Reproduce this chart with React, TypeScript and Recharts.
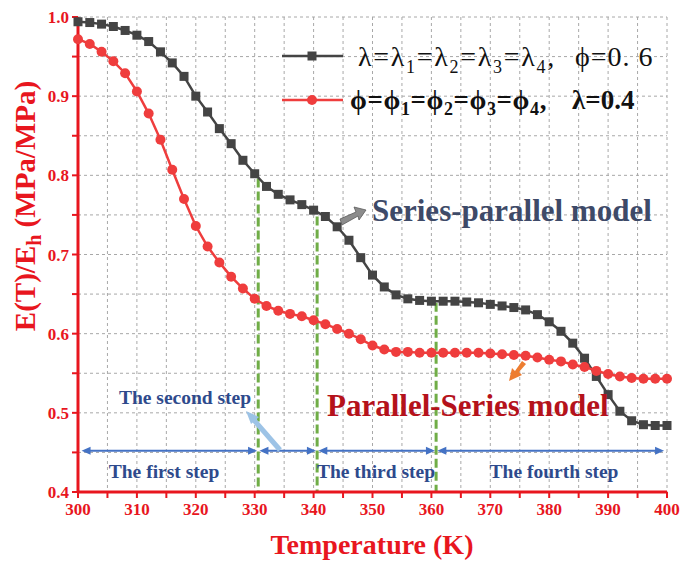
import React from "react";
import {
  LineChart,
  Line,
  XAxis,
  YAxis,
  CartesianGrid,
  ReferenceLine,
} from "recharts";

const temperature = [
  300, 302, 304, 306, 308, 310, 312, 314, 316, 318, 320, 322, 324, 326, 328, 330, 332, 334,
  336, 338, 340, 342, 344, 346, 348, 350, 352, 354, 356, 358, 360, 362, 364, 366, 368, 370,
  372, 374, 376, 378, 380, 382, 384, 386, 388, 390, 392, 394, 396, 398, 400,
];

// λ=λ1=λ2=λ3=λ4, ϕ=0.6 (series-parallel)
const seriesParallel = [
  0.994, 0.993, 0.991, 0.988, 0.983, 0.977, 0.969, 0.956, 0.942, 0.925, 0.9, 0.88, 0.859,
  0.84, 0.819, 0.802, 0.786, 0.776, 0.769, 0.763, 0.756, 0.748, 0.735, 0.718, 0.696, 0.674,
  0.659, 0.649, 0.644, 0.642, 0.641, 0.641, 0.641, 0.64, 0.639, 0.637, 0.635, 0.633, 0.63,
  0.624, 0.615, 0.603, 0.588, 0.569, 0.546, 0.523, 0.502, 0.49, 0.485, 0.484, 0.484,
];

// ϕ=ϕ1=ϕ2=ϕ3=ϕ4, λ=0.4 (parallel-series)
const parallelSeries = [
  0.972, 0.966, 0.956, 0.944, 0.929, 0.906, 0.878, 0.845, 0.807, 0.77, 0.736, 0.71, 0.69,
  0.672, 0.657, 0.644, 0.635, 0.629, 0.625, 0.622, 0.617, 0.612, 0.606, 0.6, 0.593, 0.585,
  0.58, 0.577, 0.577, 0.576, 0.576, 0.576, 0.576, 0.576, 0.576, 0.575, 0.574, 0.573, 0.572,
  0.57, 0.567, 0.565, 0.561, 0.558, 0.553, 0.549, 0.546, 0.544, 0.543, 0.543, 0.543,
];

const xTicks = [300, 305, 310, 315, 320, 325, 330, 335, 340, 345, 350, 355, 360, 365, 370, 375, 380, 385, 390, 395, 400];
const yTicks = [0.4, 0.45, 0.5, 0.55, 0.6, 0.65, 0.7, 0.75, 0.8, 0.85, 0.9, 0.95, 1.0];

// step boundaries (K) and where the green guides start (curve value)
const stepBounds = [300.6, 330.6, 340.6, 360.8, 399.7];
const guideTops = [0.796, 0.748, 0.639];
const stepArrowY = 0.452;

const data = temperature.map((t, i) => ({
  t,
  sp: seriesParallel[i],
  ps: parallelSeries[i],
}));

const RED = "#e8161e";
const BLUE = "#1414e6";
const BLACK = "#444444";
const PINK = "#ef3d3d";
const STEP = "#4472c4";
const STEP_TEXT = "#2e4a8c";
const SERIF = '"Liberation Serif", serif';

const SquareDot = (props: any) => {
  const { cx, cy, index } = props;
  return <rect key={`sq-${index}`} x={cx - 4.5} y={cy - 4.5} width={9} height={9} fill={BLACK} />;
};

const RoundDot = (props: any) => {
  const { cx, cy, index } = props;
  return <circle key={`ci-${index}`} cx={cx} cy={cy} r={5} fill={PINK} />;
};

const head = (x: number, y: number, dir: number) => {
  // dir: -1 = pointing left, 1 = pointing right
  const l = 9;
  const w = 4;
  return `${x},${y} ${x - dir * l},${y - w} ${x - dir * l},${y + w}`;
};

const StepArrow = (p: any) => {
  const { x1, y1, x2, y2 } = p;
  return (
    <g>
      <line x1={x1 + 4} y1={y1} x2={x2 - 4} y2={y2} stroke={STEP} strokeWidth={2} />
      <polygon points={head(x1, y1, -1)} fill={STEP} />
      <polygon points={head(x2, y2, 1)} fill={STEP} />
    </g>
  );
};

const subStyle: React.CSSProperties = { fontSize: 18, lineHeight: 0 };

const abs = (left: number, top: number, extra: React.CSSProperties): React.CSSProperties => ({
  position: "absolute",
  left,
  top,
  transform: "translateY(-50%)",
  fontFamily: SERIF,
  whiteSpace: "nowrap",
  lineHeight: 1,
  ...extra,
});

const LegendBox = () => (
  <>
    <svg width={686} height={563} style={{ position: "absolute", top: 0, left: 0 }}>
      <line x1={282} y1={56} x2={343} y2={56} stroke={BLACK} strokeWidth={2.5} />
      <rect x={307.5} y={51.5} width={9} height={9} fill={BLACK} />
      <line x1={282} y1={100} x2={343} y2={100} stroke={PINK} strokeWidth={2.5} />
      <circle cx={312} cy={100} r={5} fill={PINK} />
    </svg>
    <div style={abs(358, 57, { fontSize: 28, letterSpacing: 1.7, color: "#111" })}>
      λ=λ<sub style={subStyle}>1</sub>=λ<sub style={subStyle}>2</sub>=λ<sub style={subStyle}>3</sub>=λ
      <sub style={subStyle}>4</sub>,
    </div>
    <div style={abs(575, 57, { fontSize: 28, letterSpacing: 1, color: "#111" })}>ϕ=0. 6</div>
    <div style={abs(350, 100, { fontSize: 27, fontWeight: "bold", letterSpacing: 0.6, color: "#111" })}>
      ϕ=ϕ<sub style={subStyle}>1</sub>=ϕ<sub style={subStyle}>2</sub>=ϕ<sub style={subStyle}>3</sub>=ϕ
      <sub style={subStyle}>4</sub>,
    </div>
    <div style={abs(572, 100, { fontSize: 27, fontWeight: "bold", color: "#111" })}>λ=0.4</div>
  </>
);

const stepLabel: React.CSSProperties = {
  position: "absolute",
  fontFamily: SERIF,
  fontWeight: "bold",
  fontSize: 19.5,
  color: STEP_TEXT,
  whiteSpace: "nowrap",
  transform: "translate(-50%, -50%)",
  lineHeight: 1,
};

export default function App() {
  return (
    <div style={{ position: "absolute", top: 0, left: 0, width: 686, height: 563, background: "#fff" }}>
      <LineChart width={686} height={563} data={data} margin={{ top: 17, right: 19, left: 0, bottom: 0 }}>
        <CartesianGrid stroke="#a8a8a8" strokeDasharray="3 3" strokeWidth={1} />
        <XAxis
          xAxisId="top"
          orientation="top"
          dataKey="t"
          type="number"
          domain={[300, 400]}
          ticks={xTicks}
          mirror
          tick={false}
          height={0}
          axisLine={{ stroke: BLUE, strokeWidth: 3 }}
          tickLine={{ stroke: BLUE, strokeWidth: 2 }}
          tickSize={4}
        />
        <YAxis
          yAxisId="right"
          orientation="right"
          type="number"
          domain={[0.4, 1.0]}
          ticks={yTicks}
          mirror
          tick={false}
          width={0}
          axisLine={{ stroke: BLUE, strokeWidth: 3 }}
          tickLine={{ stroke: BLUE, strokeWidth: 2 }}
          tickSize={4}
        />
        <XAxis
          dataKey="t"
          type="number"
          domain={[300, 400]}
          ticks={xTicks}
          height={71}
          axisLine={{ stroke: RED, strokeWidth: 3 }}
          tickLine={{ stroke: RED, strokeWidth: 2 }}
          tickSize={6}
          tickMargin={5}
          tickFormatter={(v: number) => (v % 10 === 0 ? String(v) : "")}
          tick={{ fill: RED, fontSize: 17, fontWeight: "bold", fontFamily: SERIF }}
        />
        <YAxis
          type="number"
          domain={[0.4, 1.0]}
          ticks={yTicks}
          width={78}
          axisLine={{ stroke: RED, strokeWidth: 3 }}
          tickLine={{ stroke: RED, strokeWidth: 2 }}
          tickSize={6}
          tickMargin={3}
          tickFormatter={(v: number) => (Math.round(v * 100) % 10 === 0 ? v.toFixed(1) : "")}
          tick={{ fill: RED, fontSize: 17, fontWeight: "bold", fontFamily: SERIF }}
        />
        {guideTops.map((top, i) => (
          <ReferenceLine
            key={`g${i}`}
            segment={[
              { x: stepBounds[i + 1], y: top },
              { x: stepBounds[i + 1], y: 0.4 },
            ]}
            stroke="#70ad47"
            strokeWidth={3}
            strokeDasharray="9 4"
          />
        ))}
        {stepBounds.slice(0, -1).map((b, i) => (
          <ReferenceLine
            key={`s${i}`}
            segment={[
              { x: b + (i === 0 ? 0 : 0.2), y: stepArrowY },
              { x: stepBounds[i + 1] - 0.2, y: stepArrowY },
            ]}
            shape={StepArrow}
          />
        ))}
        <Line
          dataKey="sp"
          stroke={BLACK}
          strokeWidth={2.5}
          dot={SquareDot}
          isAnimationActive={false}
        />
        <Line
          dataKey="ps"
          stroke={PINK}
          strokeWidth={2.5}
          dot={RoundDot}
          isAnimationActive={false}
        />
      </LineChart>

      <LegendBox />

      <svg width={686} height={563} style={{ position: "absolute", top: 0, left: 0, pointerEvents: "none" }}>
        {/* gray arrow to series-parallel curve */}
        <polygon
          points="340,219 356,212 354,207 366,210 359,220 358,216 342,225"
          fill="#8c8c8c"
          stroke="#5a5a5a"
          strokeWidth={0.8}
        />
        {/* orange arrow to parallel-series curve */}
        <polygon points="526,364 519,372 522,375 509,381 512,368 515,371 522,361" fill="#ed7d31" />
        {/* light-blue arrow for the second step */}
        <line x1={280} y1={450} x2={253} y2={419} stroke="#9dc3e6" strokeWidth={5} />
        <polygon points="246,411 259,417 251,424" fill="#9dc3e6" />
      </svg>

      <div style={abs(372, 210, { fontWeight: "bold", fontSize: 31, color: "#3e4a68" })}>
        Series-parallel model
      </div>
      <div style={abs(327, 405, { fontWeight: "bold", fontSize: 31, color: "#b5121b" })}>
        Parallel-Series model
      </div>

      <div style={{ ...stepLabel, left: 185, top: 398 }}>The second step</div>
      <div style={{ ...stepLabel, left: 164, top: 472 }}>The first step</div>
      <div style={{ ...stepLabel, left: 376, top: 472 }}>The third step</div>
      <div style={{ ...stepLabel, left: 554, top: 472 }}>The fourth step</div>

      <div
        style={{
          position: "absolute",
          left: 372,
          top: 545,
          transform: "translate(-50%, -50%)",
          fontFamily: SERIF,
          fontWeight: "bold",
          fontSize: 28,
          color: RED,
          whiteSpace: "nowrap",
          lineHeight: 1,
        }}
      >
        Temperature (K)
      </div>
      <div
        style={{
          position: "absolute",
          left: 25,
          top: 206,
          transform: "translate(-50%, -50%) rotate(-90deg)",
          fontFamily: SERIF,
          fontWeight: "bold",
          fontSize: 29,
          color: RED,
          whiteSpace: "nowrap",
          lineHeight: 1,
        }}
      >
        E(T)/E<sub style={{ fontSize: 20, lineHeight: 0 }}>h</sub> (MPa/MPa)
      </div>
    </div>
  );
}
